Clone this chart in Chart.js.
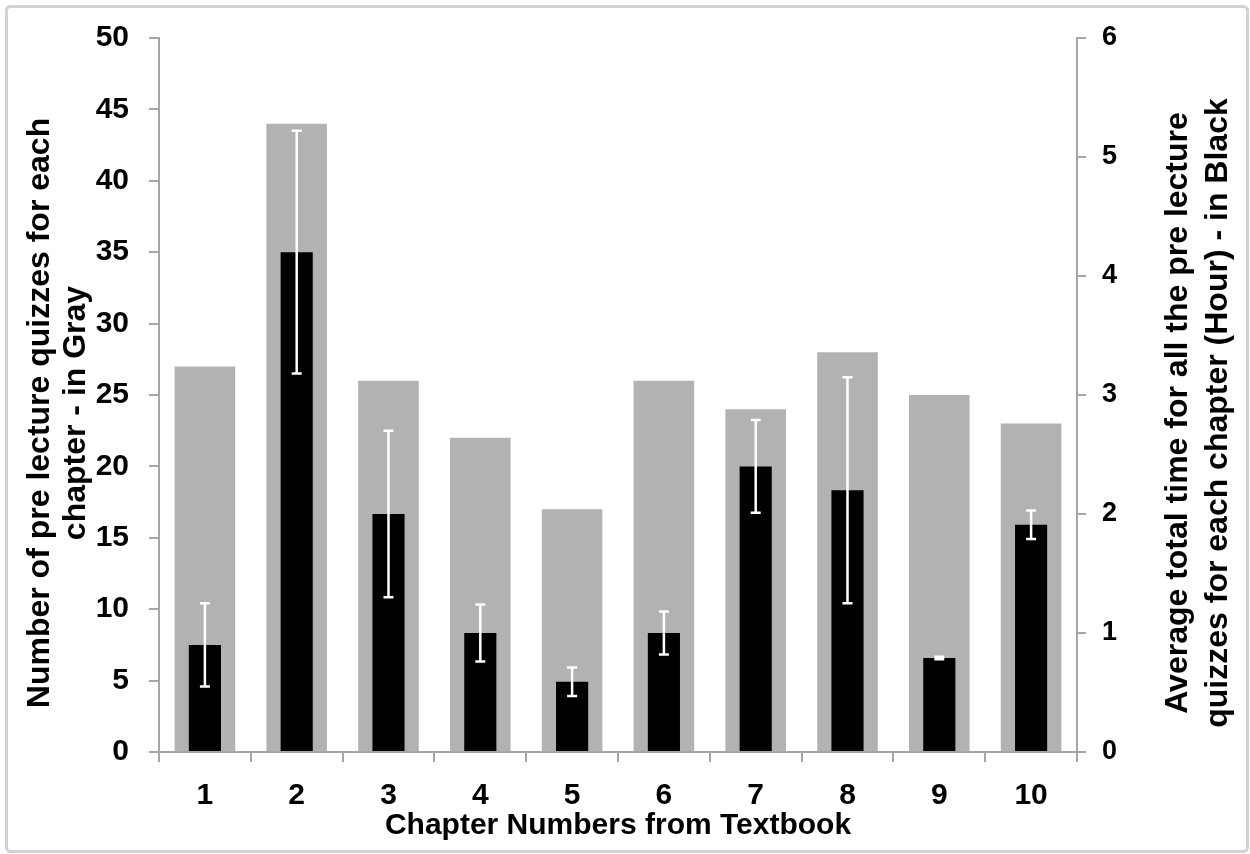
<!DOCTYPE html>
<html>
<head>
<meta charset="utf-8">
<script src="https://cdn.jsdelivr.net/npm/chart.js@4/dist/chart.umd.min.js"></script>
<style>
  html, body { margin: 0; padding: 0; background: #fff; }
  #wrap { width: 1250px; height: 854px; }
</style>
</head>
<body>
<div id="wrap"><canvas id="quizChart"></canvas></div>
<script>
// chapter data
const chapters = ["1", "2", "3", "4", "5", "6", "7", "8", "9", "10"];
const quizCounts = [27, 44, 26, 22, 17, 26, 24, 28, 25, 23];          // gray, left axis
const avgHours = [0.9, 4.2, 2.0, 1.0, 0.59, 1.0, 2.4, 2.2, 0.79, 1.91]; // black, right axis
const hourErr = [0.35, 1.02, 0.7, 0.24, 0.12, 0.18, 0.39, 0.95, 0.01, 0.12];

const leftTitle = ["Number of pre lecture quizzes for each", "chapter - in Gray"];
const rightTitle = ["Average total time for all the pre lecture", "quizzes for each chapter (Hour) - in Black"];
const xTitle = "Chapter Numbers from Textbook";

const FONT = '"Liberation Sans", Arial, sans-serif';
const AXIS_GRAY = "#a6a6a6";

// light frame round the whole picture
const framePlugin = {
  id: "frame",
  beforeDraw(chart) {
    const ctx = chart.ctx;
    ctx.save();
    ctx.fillStyle = "#fff";
    ctx.fillRect(0, 0, chart.width, chart.height);
    ctx.strokeStyle = "#d2d2d2";
    ctx.lineWidth = 3;
    ctx.beginPath();
    ctx.roundRect(6.5, 6.5, chart.width - 9, chart.height - 9, 4);
    ctx.stroke();
    ctx.restore();
  }
};

// white error bars on the black series
const errorBarPlugin = {
  id: "errorBars",
  afterDatasetsDraw(chart) {
    const meta = chart.getDatasetMeta(0);
    const yScale = chart.scales.yHours;
    const ctx = chart.ctx;
    ctx.save();
    ctx.strokeStyle = "#fff";
    ctx.lineWidth = 2.5;
    meta.data.forEach((bar, i) => {
      const x = bar.x;
      const yTop = yScale.getPixelForValue(avgHours[i] + hourErr[i]);
      const yBot = yScale.getPixelForValue(avgHours[i] - hourErr[i]);
      ctx.beginPath();
      ctx.moveTo(x, yTop); ctx.lineTo(x, yBot);
      ctx.moveTo(x - 5, yTop); ctx.lineTo(x + 5, yTop);
      ctx.moveTo(x - 5, yBot); ctx.lineTo(x + 5, yBot);
      ctx.stroke();
    });
    ctx.restore();
  }
};

// both side titles read bottom-to-top
const sideTitlePlugin = {
  id: "sideTitles",
  afterDraw(chart) {
    const ctx = chart.ctx;
    const area = chart.chartArea;
    const cy = (area.top + area.bottom) / 2 + 18;
    const drawLines = (lines, x0, step) => {
      lines.forEach((line, i) => {
        ctx.save();
        ctx.translate(x0 + i * step, cy);
        ctx.rotate(-Math.PI / 2);
        ctx.fillText(line, 0, 0);
        ctx.restore();
      });
    };
    ctx.save();
    ctx.font = "bold 32px " + FONT;
    ctx.fillStyle = "#000";
    ctx.textAlign = "center";
    ctx.textBaseline = "middle";
    drawLines(leftTitle, 40, 36);
    drawLines(rightTitle, 1178, 40);
    ctx.restore();
  }
};

new Chart(document.getElementById("quizChart"), {
  type: "bar",
  data: {
    labels: chapters,
    datasets: [
      {
        label: "Average time (hours)",
        data: avgHours,
        yAxisID: "yHours",
        backgroundColor: "#000",
        barPercentage: 0.35,
        categoryPercentage: 1,
        grouped: false,
        order: 1
      },
      {
        label: "Number of quizzes",
        data: quizCounts,
        yAxisID: "yCount",
        backgroundColor: "#b2b2b2",
        barPercentage: 0.66,
        categoryPercentage: 1,
        grouped: false,
        order: 2
      }
    ]
  },
  options: {
    responsive: true,
    maintainAspectRatio: false,
    animation: false,
    layout: { padding: { top: 34, left: 0, right: 0, bottom: 0 } },
    plugins: {
      legend: { display: false },
      tooltip: { enabled: false }
    },
    scales: {
      x: {
        grid: { display: true, drawOnChartArea: false, offset: true, tickLength: 10, color: AXIS_GRAY, lineWidth: 2 },
        border: { color: AXIS_GRAY, width: 2 },
        ticks: { color: "#000", padding: 16, font: { family: FONT, size: 30, weight: "bold" } },
        title: { display: true, text: xTitle, color: "#000", padding: { top: 0, bottom: 10 }, font: { family: FONT, size: 30, weight: "bold" } },
        afterFit(scale) { scale.height = 102; }
      },
      yCount: {
        position: "left",
        min: 0, max: 50,
        grid: { drawOnChartArea: false, tickLength: 10, color: AXIS_GRAY, lineWidth: 2 },
        border: { color: AXIS_GRAY, width: 2 },
        ticks: { stepSize: 5, color: "#000", padding: 20, font: { family: FONT, size: 30, weight: "bold" } },
        afterFit(scale) { scale.width = 159; }
      },
      yHours: {
        position: "right",
        min: 0, max: 6,
        grid: { drawOnChartArea: false, tickLength: 9, color: AXIS_GRAY, lineWidth: 2 },
        border: { color: AXIS_GRAY, width: 2 },
        ticks: { stepSize: 1, color: "#000", padding: 16, font: { family: FONT, size: 27, weight: "bold" } },
        afterFit(scale) { scale.width = 173; }
      }
    }
  },
  plugins: [framePlugin, errorBarPlugin, sideTitlePlugin]
});
</script>
</body>
</html>
